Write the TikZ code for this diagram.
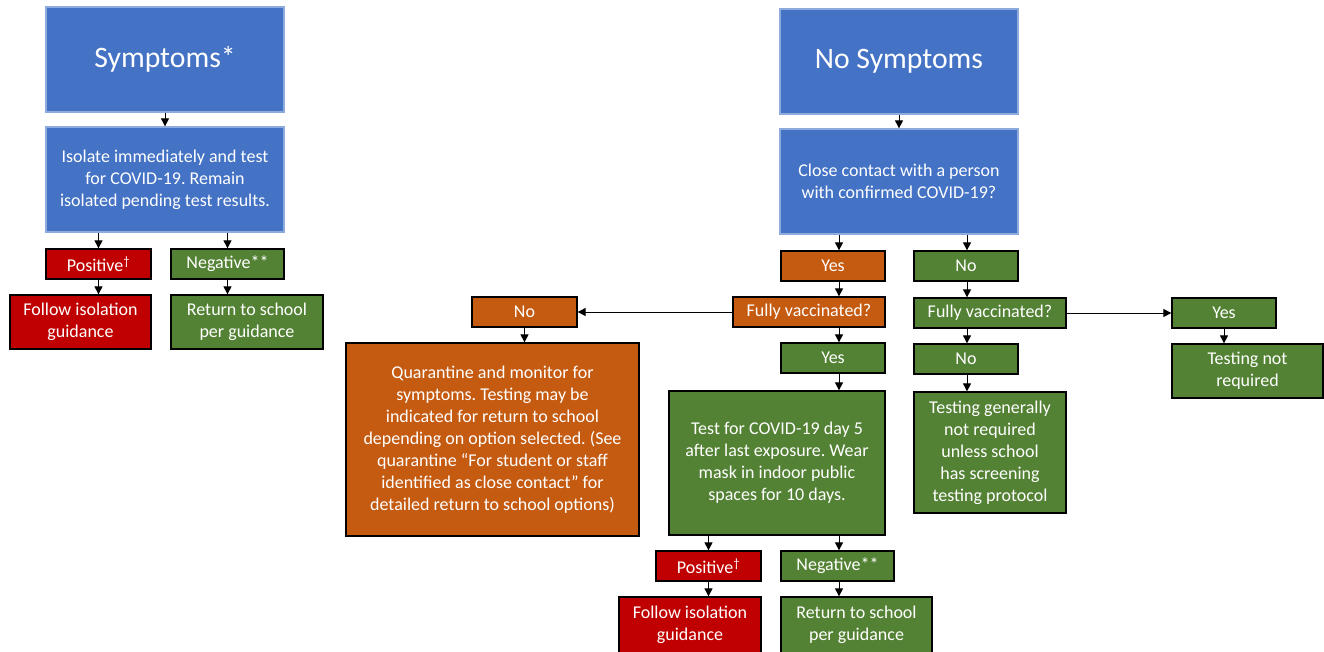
\documentclass[tikz,border=0pt]{standalone}
\usepackage{fontspec}
\setmainfont{Carlito}
\frenchspacing
\usetikzlibrary{arrows.meta}
\definecolor{boxblue}{HTML}{4472C4}
\definecolor{boxedge}{HTML}{8FAADC}
\definecolor{boxred}{HTML}{C00000}
\definecolor{boxgreen}{HTML}{548235}
\definecolor{boxorange}{HTML}{C55A11}
\tikzset{
    box/.style={draw=black, line width=1.3pt, text=white, align=center,
                inner sep=0pt, font=\fontsize{18}{22}\selectfont},  % plain box
    bluebox/.style={box, fill=boxblue, draw=boxedge},
    redbox/.style={box, fill=boxred},
    greenbox/.style={box, fill=boxgreen},
    orangebox/.style={box, fill=boxorange},
    title/.style={font=\fontsize{29.7}{36}\selectfont},
    wh/.style 2 args={minimum width=#1pt, minimum height=#2pt},
    arr/.style={-{Triangle[length=8pt,width=8pt]}, line width=1pt},
}

\begin{document}
\begin{tikzpicture}[x=1pt, y=-1pt]
    \useasboundingbox[fill=white] (0,0) rectangle (1324,651);

    % Symptoms side
    \node[bluebox, title, wh={238}{105}] (sym) at (165,59.5) {Symptoms*};
    \node[bluebox, wh={238}{105}] (iso) at (165,179.5)
        {Isolate immediately and test\\for COVID-19. Remain\\isolated pending test results.};
    \node[redbox, wh={105}{30}] (posL) at (98.5,264) {Positive\textsuperscript{†}};
    \node[greenbox, wh={113}{30}] (negL) at (227.5,264) {Negative**};
    \node[redbox, wh={141}{54}] (folL) at (80.5,322) {Follow isolation\\guidance};
    \node[greenbox, wh={152}{54}] (retL) at (247,322) {Return to school\\per guidance};

    % No symptoms side
    \node[bluebox, title, wh={238}{105}] (nsym) at (899,61.5) {No Symptoms};
    \node[bluebox, wh={238}{105}] (close) at (899,181.5)
        {Close contact with a person\\with confirmed COVID-19?};
    \node[orangebox, wh={104}{30}] (yesO) at (833,266) {Yes};
    \node[greenbox, wh={104}{30}] (noG) at (966,266) {No};

    % Close contact branch
    \node[orangebox, wh={152}{30}] (fvO) at (809,312) {Fully vaccinated?};
    \node[orangebox, wh={105}{30}] (noO) at (524.5,312) {No};
    \node[orangebox, wh={293}{193}] (quar) at (492.5,439.5)
        {Quarantine and monitor for\\symptoms. Testing may be\\indicated for return to school\\depending on option selected. (See\\quarantine “For student or staff\\identified as close contact” for\\detailed return to school options)};
    \node[greenbox, wh={104}{30}] (yesG) at (833,358) {Yes};
    \node[greenbox, wh={216}{144}] (test) at (777,463)
        {Test for COVID-19 day 5\\after last exposure. Wear\\mask in indoor public\\spaces for 10 days.};
    \node[redbox, wh={105}{30}] (posR) at (708.5,566) {Positive\textsuperscript{†}};
    \node[greenbox, wh={113}{30}] (negR) at (837.5,566) {Negative**};
    \node[redbox, wh={142}{56}] (folR) at (690,625) {Follow isolation\\guidance};
    \node[greenbox, wh={151}{56}] (retR) at (856.5,625) {Return to school\\per guidance};

    % No close contact branch
    \node[greenbox, wh={152}{30}] (fvG) at (990,313) {Fully vaccinated?};
    \node[greenbox, wh={104}{30}] (noG2) at (966,359) {No};
    \node[greenbox, wh={152}{121}] (tgen) at (990,452.5)
        {Testing generally\\not required\\unless school\\has screening\\testing protocol};
    \node[greenbox, wh={104}{30}] (yesR) at (1224,313) {Yes};
    \node[greenbox, wh={151}{54}] (tnr) at (1247.5,371) {Testing not\\required};

    % Arrows
    \coordinate (spine) at (839,0);
    \coordinate (spine2) at (967,0);
    \draw[arr] (sym) -- (iso);
    \draw[arr] (iso.south -| posL) -- (posL);
    \draw[arr] (iso.south -| negL) -- (negL);
    \draw[arr] (posL) -- (posL |- folL.north);
    \draw[arr] (negL) -- (negL |- retL.north);
    \draw[arr] (nsym) -- (close);
    \foreach \a/\b in {close/yesO, yesO/fvO, fvO/yesG, yesG/test, test/negR, negR/retR}
        \draw[arr] (\a.south -| spine) -- (\b.north -| spine);
    \foreach \a/\b in {close/noG, noG/fvG, fvG/noG2, noG2/tgen}
        \draw[arr] (\a.south -| spine2) -- (\b.north -| spine2);
    \draw[arr] (fvO) -- (noO);
    \draw[arr] (noO) -- (noO |- quar.north);
    \draw[arr] (test.south -| posR) -- (posR);
    \draw[arr] (posR) -- (posR |- folR.north);
    \draw[arr] (fvG) -- (yesR);
    \draw[arr] (yesR) -- (yesR |- tnr.north);
\end{tikzpicture}
\end{document}
